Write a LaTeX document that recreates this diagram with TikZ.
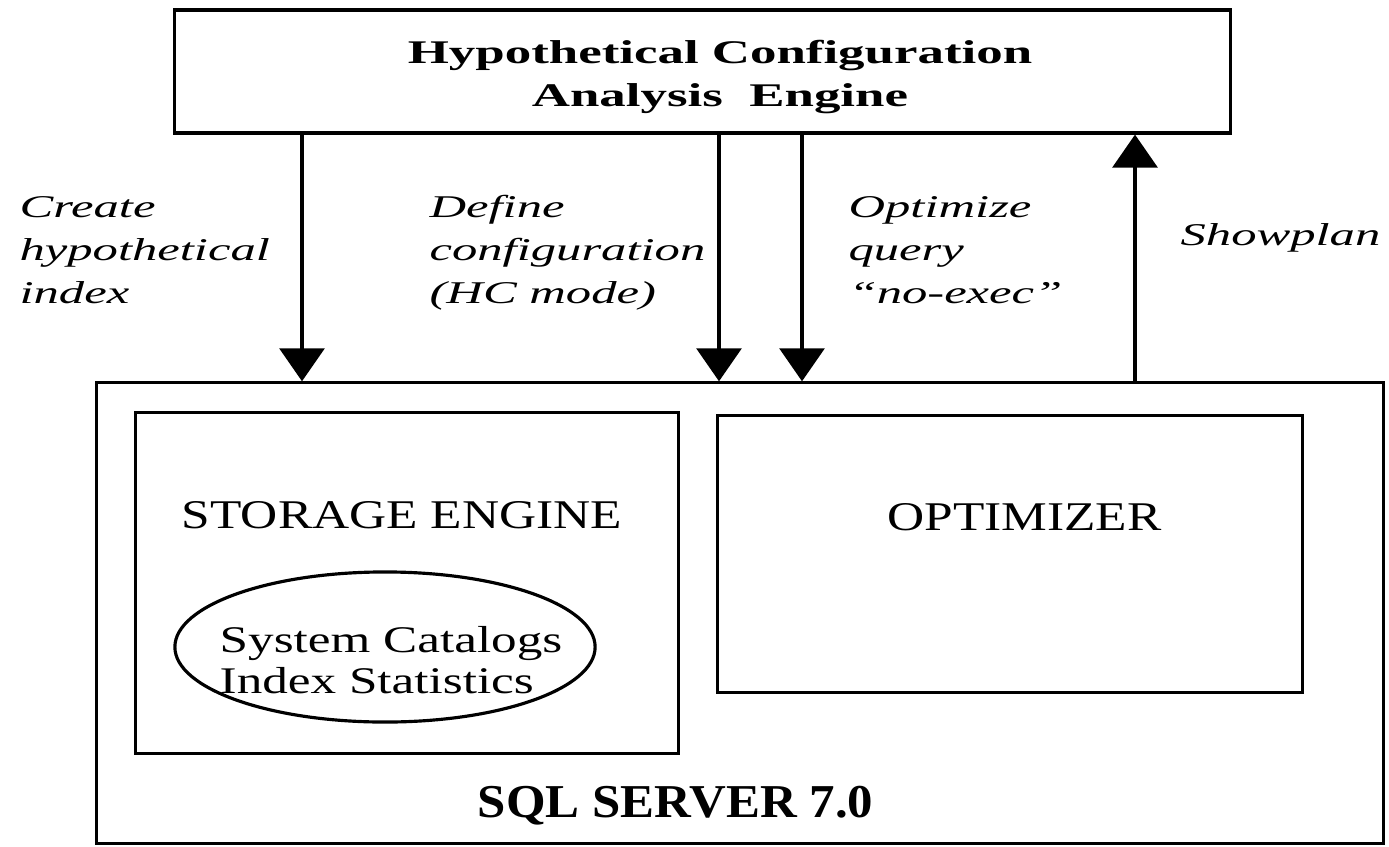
\documentclass[tikz,border=0pt]{standalone}
\usepackage{fontspec}
\setmainfont{Liberation Serif}
\newfontfamily\widefont{Liberation Serif}[FakeStretch=1.6]
\newfontfamily\boxfont{Liberation Serif}[FakeStretch=1.26]
\newfontfamily\catfont{Liberation Serif}[FakeStretch=1.36]
\newfontfamily\sqlfont{Liberation Serif}[FakeStretch=1.08]
\usetikzlibrary{arrows.meta,shapes.geometric}

\begin{document}
\begin{tikzpicture}[x=0.01cm,y=-0.01cm,>={Triangle[width=4.5mm,length=3.3mm]},line width=0.9pt]
    \tikzstyle{rec}=[draw=black,rectangle,inner sep=0pt]
    \tikzstyle{lbl}=[inner sep=0pt,align=left,font=\widefont\itshape\fontsize{9}{12.2}\selectfont]
    \tikzstyle{txt}=[inner sep=0pt,anchor=base,font=\boxfont\fontsize{11.6}{14}\selectfont]
    \useasboundingbox (0,0) rectangle (1389,846);

    \node[rec, minimum width=10.55cm, minimum height=1.23cm] (hcae) at (702.5,71.5) {};
    \node[inner sep=0pt, align=center, font=\widefont\bfseries\fontsize{9.4}{12.2}\selectfont]
          (hcaelbl) at (720,77) {Hypothetical Configuration\\Analysis\ \ Engine};
    \node[rec, minimum width=12.86cm, minimum height=4.6cm] (sqlsrv) at (740,613) {};
    \node[rec, minimum width=5.43cm, minimum height=3.41cm] (storage) at (407,583) {};
    \node[rec, minimum width=5.85cm, minimum height=2.77cm] (optim) at (1010,554) {};
    \node[ellipse, draw, inner sep=0pt, minimum width=4.2cm, minimum height=1.5cm] (catalog) at (385,647) {};

    \node[txt] (storlbl) at (402,528) {STORAGE ENGINE};
    \node[txt] (optlbl) at (1024.5,530) {OPTIMIZER};
    \node[inner sep=0pt, align=left, font=\catfont\fontsize{10.7}{11.6}\selectfont] (catlbl) at (391,660) {System Catalogs\\Index Statistics};
    \node[txt, font=\sqlfont\bfseries\fontsize{13.4}{16}\selectfont] (sqllbl) at (675.5,817) {SQL SERVER 7.0};

    \node[lbl, anchor=north west] (createlbl) at (18,195) {Create\\hypothetical\\index};
    \node[lbl, anchor=north west] (definelbl) at (428,194) {Define\\configuration\\(HC mode)};
    \node[lbl, anchor=north west] (optqlbl) at (847,195) {Optimize\\query\\“no-exec”};
    \node[lbl, anchor=base west] (showlbl) at (1179,246) {Showplan};

    \coordinate (xcreate) at (302,0);
    \coordinate (xdefine) at (719,0);
    \coordinate (xoptq) at (802,0);
    \coordinate (xshow) at (1135,0);

    \draw[->] (hcae.south -| xcreate) -- (sqlsrv.north -| xcreate);
    \draw[->] (hcae.south -| xdefine) -- (sqlsrv.north -| xdefine);
    \draw[->] (hcae.south -| xoptq) -- (sqlsrv.north -| xoptq);
    \draw[->] (sqlsrv.north -| xshow) -- (hcae.south -| xshow);

\end{tikzpicture}
\end{document}
